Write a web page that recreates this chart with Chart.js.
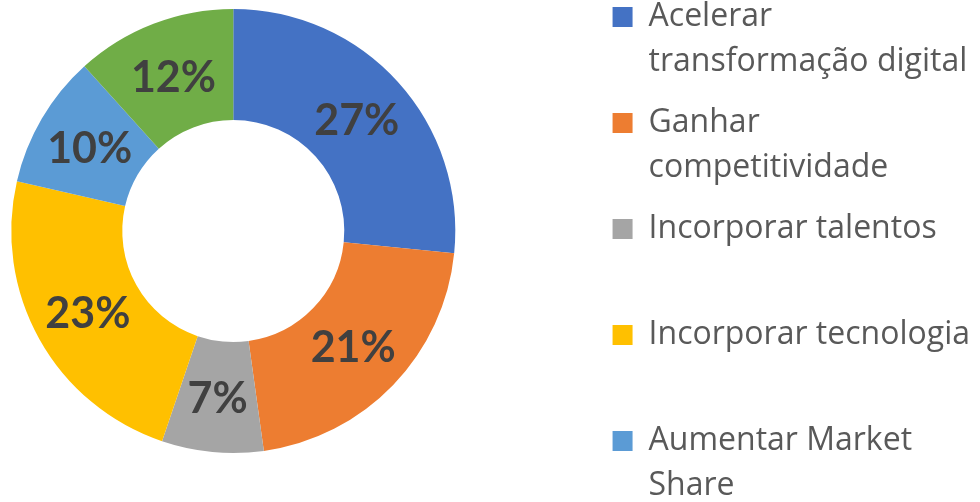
<!DOCTYPE html>
<html>
<head>
<meta charset="utf-8">
<script src="https://cdn.jsdelivr.net/npm/chart.js@4.4.1/dist/chart.umd.min.js"></script>
<style>
  html, body { margin: 0; padding: 0; background: #fff; }
  #wrap { position: relative; width: 980px; height: 502px; overflow: hidden; }
  /* the chart is taller/wider than the window, only this part of it shows */
  #myChart { position: absolute; left: -130px; top: -69px; }
</style>
</head>
<body>
<div id="wrap"><canvas id="myChart" width="1110" height="600"></canvas></div>
<script>
// legend text, one array per item (second line empty when the label fits on one line)
const labels = [
  ['Acelerar', 'transformação digital'],
  ['Ganhar', 'competitividade'],
  ['Incorporar talentos', ''],
  ['Incorporar tecnologia', ''],
  ['Aumentar Market', 'Share'],
  ['Outros', '']
];
const values = [26.6, 21.2, 7.4, 23.4, 9.7, 11.7];
const colors = ['#4472C4', '#ED7D31', '#A5A5A5', '#FFC000', '#5B9BD5', '#70AD47'];

// percentage text in the middle of each ring slice
const percentLabels = {
  id: 'percentLabels',
  afterDatasetsDraw(chart) {
    const ctx = chart.ctx;
    const meta = chart.getDatasetMeta(0);
    const total = values.reduce((a, b) => a + b, 0);
    ctx.save();
    ctx.font = 'bold 43px Lato';
    ctx.fillStyle = '#404040';
    ctx.textAlign = 'center';
    ctx.textBaseline = 'alphabetic';
    meta.data.forEach((arc, i) => {
      const txt = Math.round(values[i] / total * 100) + '%';
      const p = arc.getCenterPoint();
      const m = ctx.measureText(txt);
      const dy = (m.actualBoundingBoxAscent - m.actualBoundingBoxDescent) / 2;
      ctx.fillText(txt, p.x, p.y + dy);
    });
    ctx.restore();
  }
};

const myChart = new Chart(document.getElementById('myChart'), {
  type: 'doughnut',
  data: {
    labels: labels,
    datasets: [{
      data: values,
      backgroundColor: colors,
      borderWidth: 0,
      radius: 222,
      cutout: '50%'
    }]
  },
  options: {
    responsive: false,
    animation: false,
    devicePixelRatio: 1,
    plugins: {
      legend: {
        position: 'right',
        align: 'end',
        labels: {
          boxWidth: 20,
          boxHeight: 20,
          padding: 16,
          color: '#595959',
          font: {family: '"Open Sans"', size: 32, lineHeight: 45 / 32},
          filter: (item) => item.index < 5
        }
      },
      tooltip: {enabled: false}
    }
  },
  plugins: [percentLabels]
});
</script>
</body>
</html>
